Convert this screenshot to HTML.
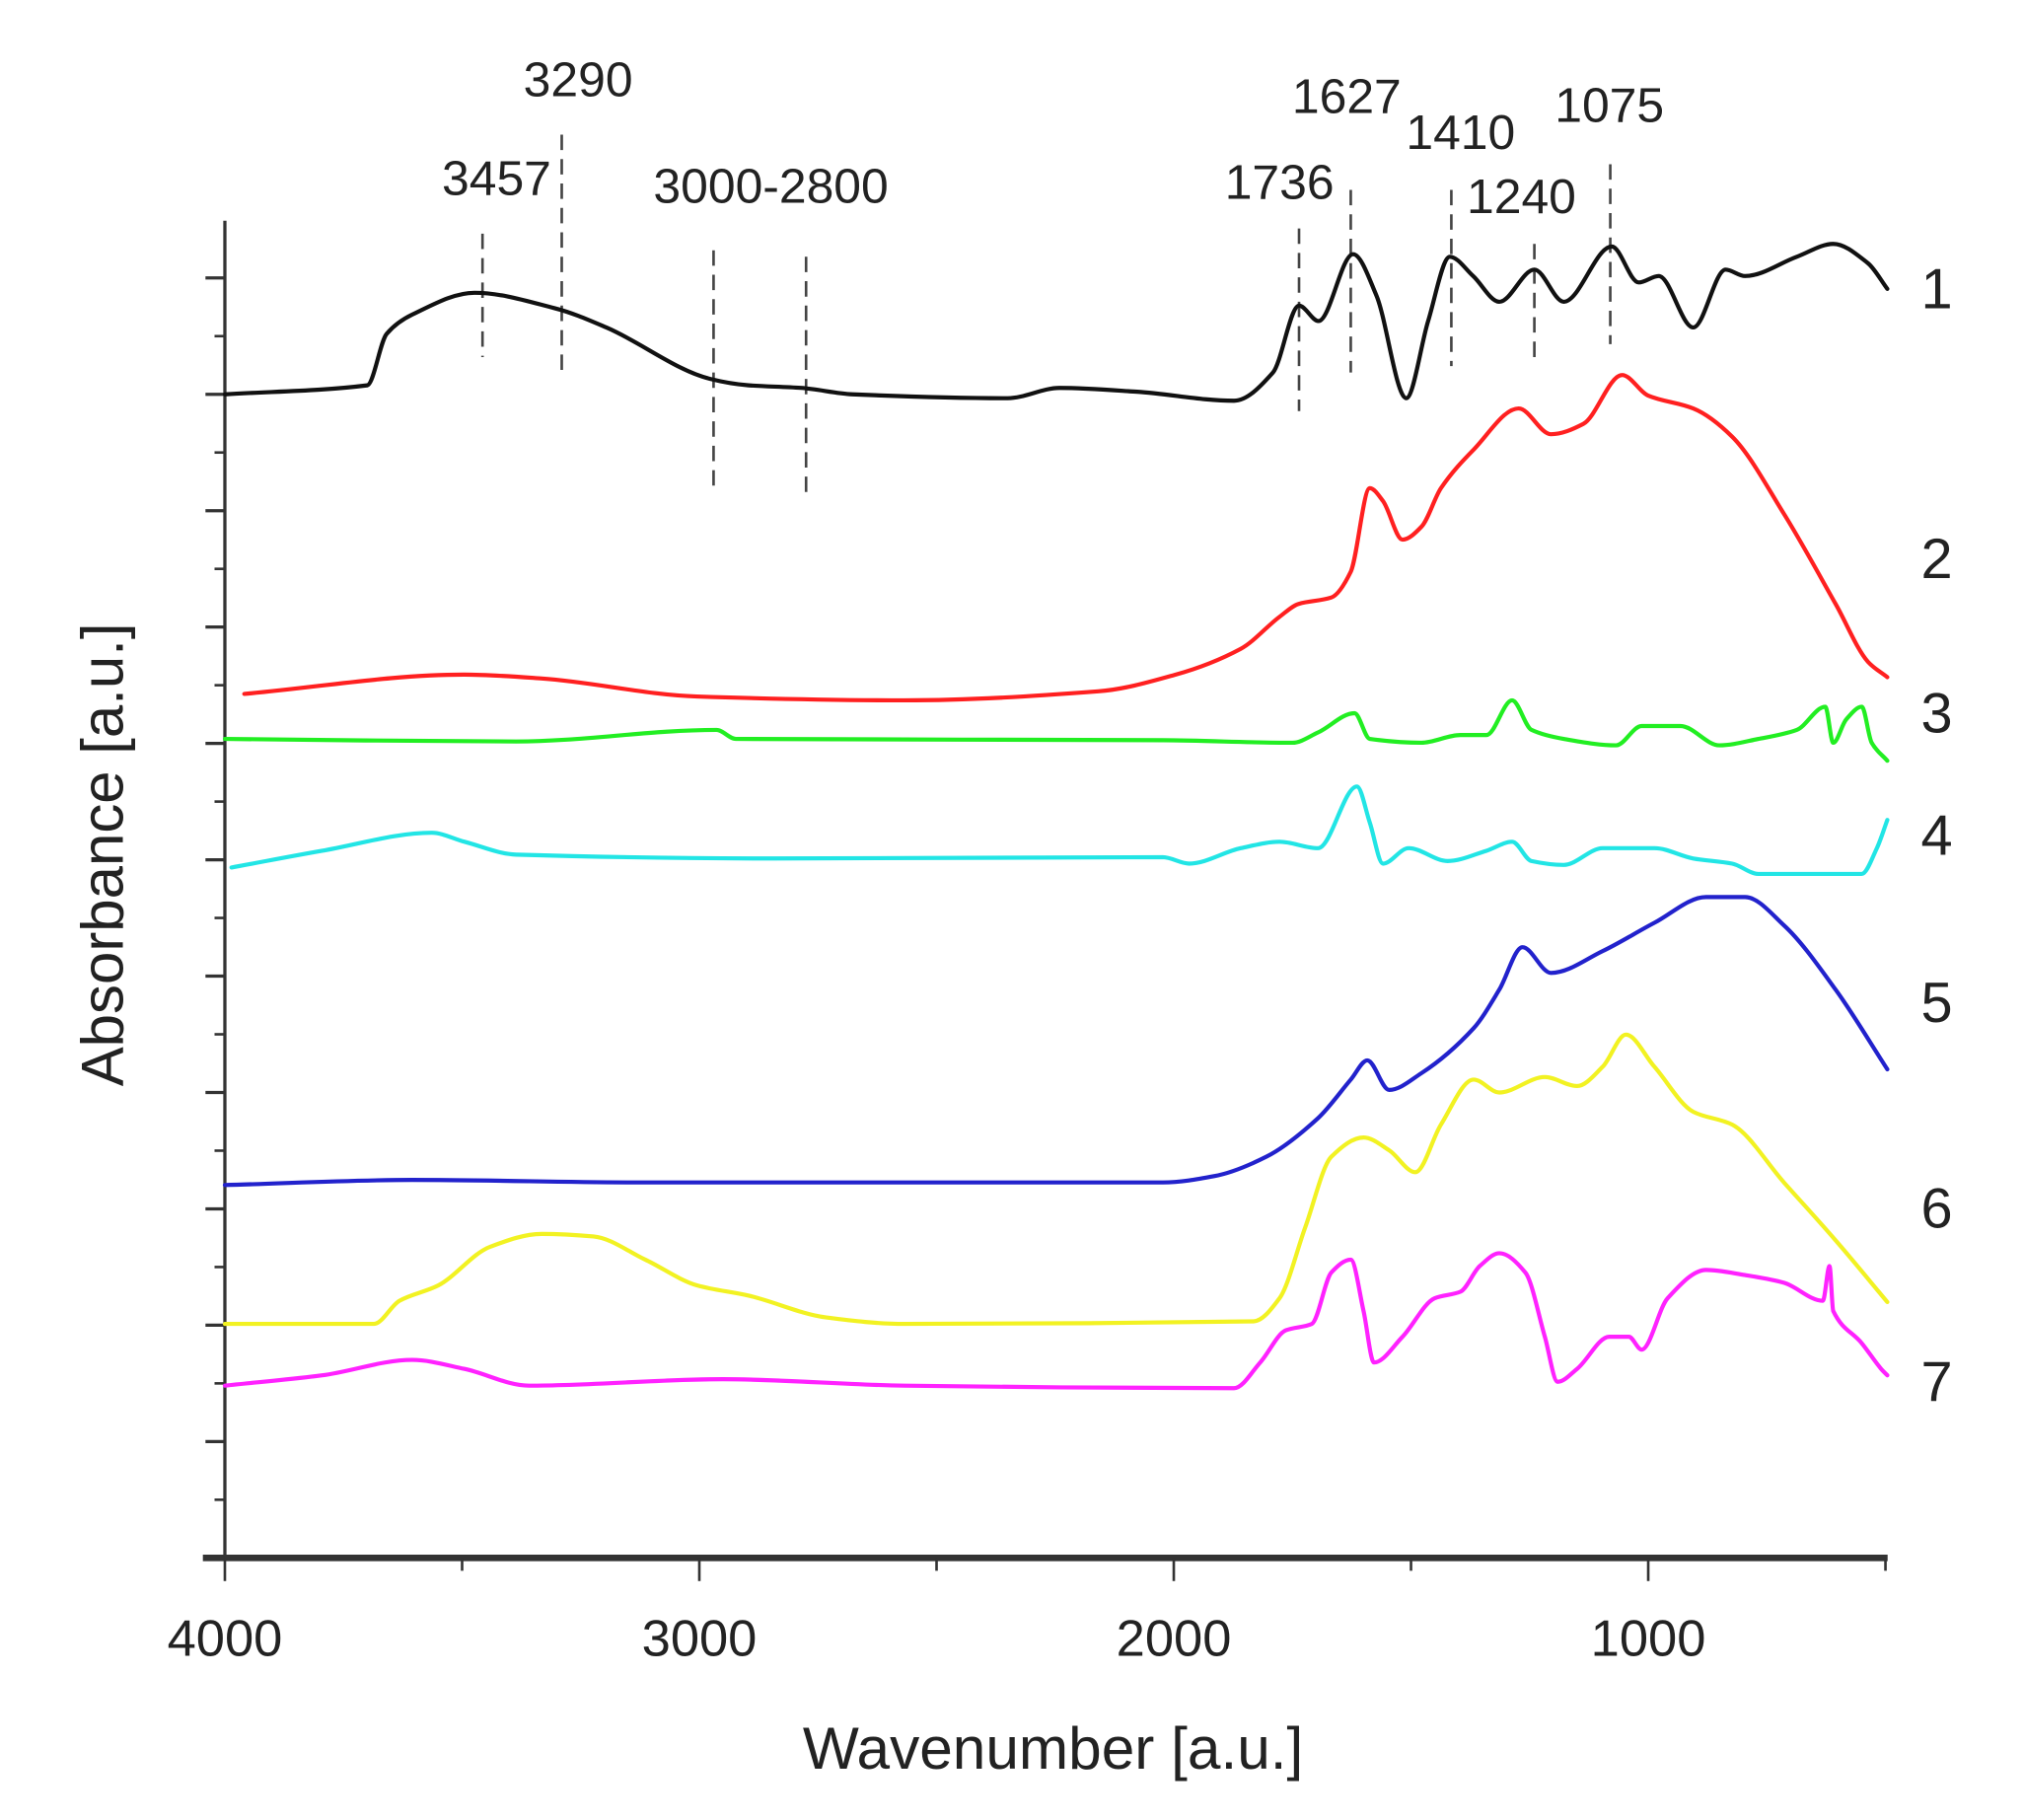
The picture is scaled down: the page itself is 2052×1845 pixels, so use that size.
<!DOCTYPE html>
<html><head><meta charset="utf-8"><style>
html,body{margin:0;padding:0;background:#fff;}
svg{display:block;}
text{font-family:"Liberation Sans",Arial,sans-serif;fill:#222;}
</style></head><body>
<svg id="chart" width="2052" height="1845" viewBox="0 0 1552 1396" preserveAspectRatio="none" xmlns="http://www.w3.org/2000/svg">
<g transform="translate(-1.2,-0.3) scale(0.9922,0.9862)">
<g id="axes"></g>
<g id="annotations"></g>
<g id="series"></g>
<text x="815" y="1376" font-size="46" text-anchor="middle">Wavenumber [a.u.]</text>
<text x="0" y="0" font-size="46" text-anchor="middle" transform="translate(96,665) rotate(-90)">Absorbance [a.u.]</text>
</g>
</svg>
<script>
const xTicksMajor = [4000, 3000, 2000, 1000];
const xTicksMinor = [3500, 2500, 1500, 500];
const xTickLabels = ["4000", "3000", "2000", "1000"];
const annotLabels = ["3290", "3457", "3000-2800", "1736", "1627", "1410", "1240", "1075"];
const dashWn = [3457, 3290, 2970, 2775, 1736, 1627, 1415, 1240, 1080];
const seriesNames = ["1", "2", "3", "4", "5", "6", "7"];
const seriesColors = ["#111111", "#ff2020", "#22ee22", "#22e5e5", "#2222cc", "#f2f222", "#ff22ff"];

const wn1 = [4000,3700,3659,3605,3474,3305,3196,2977,2896,2786,2677,2350,2241,2077,1873,1791,1736,1695,1622,1573,1510,1464,1418,1369,1314,1240,1178,1077,1020,978,905,837,796,687,610,537,496];
const ab1 = [90.5,91.2,95.2,96.7,98.4,97.2,95.7,91.7,91.2,91.0,90.5,90.2,91.0,90.7,90.0,92.2,97.4,96.2,101.4,98.2,90.2,96.2,101.2,99.7,97.7,100.2,97.7,102.0,99.2,99.7,95.7,100.2,99.7,101.2,102.2,100.7,98.7];
const wn2 = [3959,3496,3332,3005,2568,2159,1996,1859,1777,1737,1668,1627,1587,1559,1518,1478,1437,1368,1273,1205,1137,1055,1000,905,823,714,605,537,496];
const ab2 = [67.2,68.7,68.4,67.0,66.7,67.4,68.7,70.7,73.2,74.2,74.7,76.7,83.2,82.2,79.2,80.2,83.2,86.2,89.4,87.4,88.2,92.0,90.4,89.4,87.2,81.2,74.2,69.7,68.5];
const wn3 = [4000,3386,2964,2923,2023,1750,1696,1619,1587,1478,1396,1341,1287,1246,1178,1068,1014,932,850,768,687,627,610,583,550,529,496];
const ab3 = [63.7,63.5,64.4,63.7,63.6,63.4,64.2,65.7,63.7,63.4,64.0,64.0,66.7,64.4,63.7,63.2,64.7,64.7,63.2,63.7,64.4,66.2,63.4,65.2,66.2,63.4,62.0];
const wn4 = [3986,3795,3564,3495,3386,2841,2023,1968,1859,1777,1696,1614,1587,1559,1505,1423,1341,1287,1246,1178,1096,987,905,823,768,659,550,518,496];
const ab4 = [53.7,55.0,56.4,55.7,54.7,54.4,54.5,54.0,55.2,55.7,55.2,60.0,57.2,54.0,55.2,54.2,55.0,55.7,54.2,53.9,55.2,55.2,54.4,54.0,53.2,53.2,53.2,55.2,57.4];
const wn5 = [4000,3605,3114,2023,1914,1805,1696,1627,1592,1546,1478,1368,1314,1265,1205,1096,987,878,796,714,605,496];
const ab5 = [29.0,29.4,29.2,29.2,29.7,31.2,34.2,37.2,38.7,36.4,37.7,41.2,44.2,47.5,45.5,47.2,49.4,51.4,51.4,49.2,44.2,38.0];
const wn6 = [4000,3686,3632,3550,3441,3332,3223,3114,3005,2896,2732,2568,1832,1777,1723,1668,1600,1546,1491,1437,1368,1314,1218,1150,1096,1047,987,905,823,714,605,496];
const ab6 = [18.2,18.2,20.0,21.2,24.2,25.2,25.0,23.2,21.2,20.4,18.7,18.2,18.4,20.2,25.7,31.2,32.7,31.7,30.0,33.7,37.2,36.2,37.4,36.7,38.2,40.7,38.2,34.7,33.7,29.2,24.7,19.9];
const wn7 = [4000,3795,3605,3495,3359,2950,2568,1873,1818,1764,1709,1668,1627,1600,1578,1518,1450,1396,1355,1314,1259,1218,1191,1150,1082,1041,1014,959,878,796,714,632,618,610,550,509,496];
const ab7 = [13.4,14.2,15.4,14.7,13.4,13.9,13.4,13.2,15.2,17.7,18.2,22.2,23.2,19.2,15.2,17.2,20.2,20.7,22.7,23.7,22.2,17.2,13.7,14.7,17.2,17.2,16.2,20.2,22.4,22.0,21.4,20.0,22.7,19.2,16.7,14.7,14.2];
const labelAb = [97.2, 76.2, 64.2, 54.7, 41.7, 25.7, 12.2];

const seriesWn = [wn1, wn2, wn3, wn4, wn5, wn6, wn7];
const seriesAb = [ab1, ab2, ab3, ab4, ab5, ab6, ab7];

const NS = "http://www.w3.org/2000/svg";
function X(w){ return 175 + (4000 - w) * 0.36667; }
function Y(a){ return 1212 - a * 10; }
function mk(tag, attrs, parent){
  const e = document.createElementNS(NS, tag);
  for (const k in attrs) e.setAttribute(k, attrs[k]);
  parent.appendChild(e);
  return e;
}
function smoothPath(p){
  const n = p.length;
  const sec = [];
  for (let i = 0; i < n - 1; i++) sec.push((p[i+1][1]-p[i][1])/(p[i+1][0]-p[i][0]));
  const m = [];
  for (let i = 0; i < n; i++) {
    if (i === 0) m.push(sec[0]);
    else if (i === n-1) m.push(sec[n-2]);
    else if (sec[i-1]*sec[i] <= 0) m.push(0);
    else m.push(2/(1/sec[i-1] + 1/sec[i]));
  }
  let d = 'M' + p[0][0].toFixed(1) + ',' + p[0][1].toFixed(1);
  for (let i = 0; i < n - 1; i++) {
    const dx = (p[i+1][0]-p[i][0])/3;
    d += ' C' + (p[i][0]+dx).toFixed(1)+','+(p[i][1]+m[i]*dx).toFixed(1)+' '+(p[i+1][0]-dx).toFixed(1)+','+(p[i+1][1]-m[i+1]*dx).toFixed(1)+' '+p[i+1][0].toFixed(1)+','+p[i+1][1].toFixed(1);
  }
  return d;
}

const axes = document.getElementById('axes');
let el = mk('line', {x1:175, y1:172, x2:175, y2:1214, stroke:'#333', 'stroke-width':2.5}, axes);


el = mk('line', {x1:158, y1:1212, x2:1460, y2:1212, stroke:'#333', 'stroke-width':5}, axes);


xTicksMajor.forEach((w, i) => {
  const t = mk('line', {x1:X(w), y1:1212, x2:X(w), y2:1230, stroke:'#333', 'stroke-width':2}, axes);
  
  
  const l = mk('text', {x:X(w), y:1288, 'font-size':40, 'text-anchor':'middle'}, axes);
  l.textContent = xTickLabels[i];
  
  
});
xTicksMinor.forEach(w => {
  const t = mk('line', {x1:X(w), y1:1212, x2:X(w), y2:1222, stroke:'#333', 'stroke-width':2}, axes);
  
  
});
for (let k = 0; k <= 11; k++) {
  const a = k * 9.05;
  const t = mk('line', {x1:160, y1:Y(a), x2:175, y2:Y(a), stroke:'#333', 'stroke-width':2.5}, axes);
  
  
  if (k < 11) {
    const m = mk('line', {x1:167, y1:Y(a + 4.525), x2:175, y2:Y(a + 4.525), stroke:'#333', 'stroke-width':2}, axes);
    
    
  }
}

const ann = document.getElementById('annotations');
const dashTop = [182, 105, 195, 200, 178, 148, 148, 190, 128];
const dashBot = [278, 290, 385, 388, 320, 290, 285, 278, 268];
dashWn.forEach((w, i) => {
  const d = mk('line', {x1:X(w), y1:dashTop[i], x2:X(w), y2:dashBot[i], stroke:'#444', 'stroke-width':2, 'stroke-dasharray':'12,7'}, ann);
  
  
});
const annPos = [[448,75],[385,152],[597,158],[990,155],[1042,88],[1130,116],[1177,166],[1245,95]];
annotLabels.forEach((s, i) => {
  const t = mk('text', {x:annPos[i][0], y:annPos[i][1], 'font-size':38, 'text-anchor':'middle'}, ann);
  t.textContent = s;
  
  
});

const sg = document.getElementById('series');
seriesWn.forEach((wns, i) => {
  const pts = wns.map((w, j) => [X(w), Y(seriesAb[i][j])]);
  const p = mk('path', {d:smoothPath(pts), fill:'none', stroke:seriesColors[i], 'stroke-width':3.2, 'stroke-linejoin':'round', 'stroke-linecap':'round'}, sg);
  
  
  const l = mk('text', {x:1498, y:Y(labelAb[i]), 'font-size':44, 'text-anchor':'middle'}, sg);
  l.textContent = seriesNames[i];
  
  
});
</script>
</body></html>
